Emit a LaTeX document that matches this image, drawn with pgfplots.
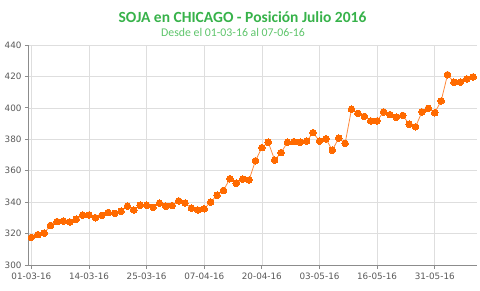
\documentclass[border=0pt]{standalone}
\usepackage{fontspec}
\setmainfont{Carlito}
\newfontfamily\tickfont{DejaVu Sans}
\usepackage{pgfplots}
\pgfplotsset{compat=1.18}
\definecolor{titlegreen}{HTML}{37B24A}
\definecolor{subgreen}{HTML}{5DC46A}
\definecolor{tickgray}{HTML}{595959}
\definecolor{axisgray}{HTML}{8C8C8C}
\definecolor{gridgray}{HTML}{DEDEDE}
\definecolor{markorange}{HTML}{FF6A00}
\definecolor{lineorange}{HTML}{FF8A3D}
\begin{document}
\begin{tikzpicture}[x=1pt,y=1pt]
\useasboundingbox (0,0) rectangle (480,290);
\node[font=\bfseries\fontsize{15.5}{18}\selectfont, text=titlegreen] at (242.5,273) {SOJA en CHICAGO - Posición Julio 2016};
\node[font=\fontsize{11.8}{14}\selectfont, text=subgreen] at (233,258) {Desde el 01-03-16 al 07-06-16};
\begin{axis}[
  at={(28.5pt,25pt)}, anchor=south west,
  scale only axis, width=448.5pt, height=220pt,
  xmin=-0.45, xmax=69.6, ymin=300, ymax=440,
  xtick={0,9,18,27,36,45,54,63},
  xticklabels={01-03-16,14-03-16,25-03-16,07-04-16,20-04-16,03-05-16,16-05-16,31-05-16},
  ytick={300,320,340,360,380,400,420,440},
  axis x line*=bottom, axis y line*=left,
  axis line style={axisgray, line width=0.9pt},
  tick align=outside, major tick length=3.5pt,
  tick style={axisgray, line width=0.8pt},
  grid=major, grid style={gridgray, line width=0.7pt},
  ticklabel style={font=\tickfont\fontsize{8.8}{10}\selectfont, text=tickgray},
  /pgf/number format/assume math mode=true,
  xticklabel style={yshift=-1pt},
  clip=false,
]
\addplot[lineorange, line width=0.8pt, mark=*, mark size=3.3pt,
  mark options={fill=markorange, draw=markorange, line width=0pt}]
coordinates {
(0,317.6)(1,319.3)(2,320.3)(3,325.2)(4,327.6)(5,328.0)(6,327.4)(7,329.1)(8,331.8)(9,331.8)
(10,330.1)(11,331.6)(12,333.4)(13,332.9)(14,334.2)(15,337.4)(16,335.0)(17,338.0)(18,338.0)(19,336.7)
(20,339.3)(21,337.4)(22,337.8)(23,340.8)(24,339.4)(25,336.1)(26,335.0)(27,335.8)(28,340.1)(29,344.4)
(30,347.5)(31,354.9)(32,352.0)(33,354.7)(34,354.1)(35,366.3)(36,374.7)(37,378.1)(38,366.8)(39,371.5)
(40,378.1)(41,378.5)(42,378.1)(43,378.9)(44,384.2)(45,378.9)(46,380.3)(47,373.0)(48,380.8)(49,377.4)
(50,399.1)(51,396.5)(52,394.6)(53,391.7)(54,391.7)(55,397.4)(56,395.7)(57,394.0)(58,395.2)(59,389.6)
(60,387.9)(61,397.4)(62,399.7)(63,396.9)(64,404.4)(65,421.1)(66,416.3)(67,416.3)(68,418.4)(69,419.7)
};
\end{axis}
\end{tikzpicture}
\end{document}
